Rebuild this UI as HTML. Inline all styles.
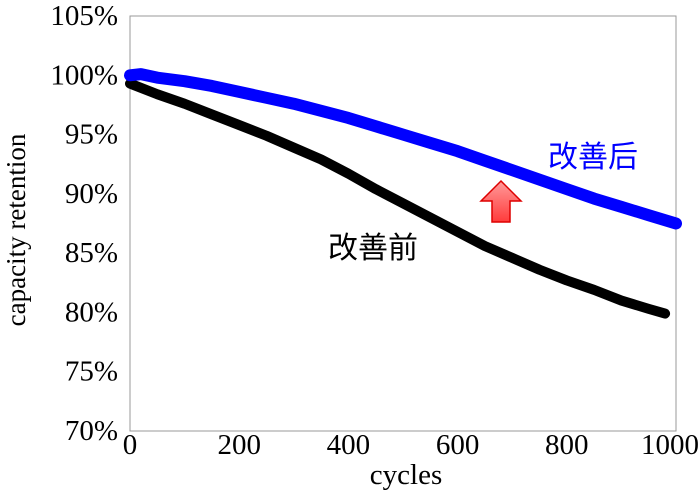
<!DOCTYPE html>
<html><head><meta charset="utf-8"><style>
body{margin:0;background:#fff}
svg{display:block;font-family:"Liberation Serif","Noto Serif CJK SC",serif}
</style></head><body>
<svg id="c" width="700" height="492" viewBox="0 0 700 492">
<defs><linearGradient id="ag" x1="0" y1="0" x2="0" y2="1"><stop offset="0" stop-color="#ff9a9a"/><stop offset="1" stop-color="#ff3b3b"/></linearGradient></defs>
<rect x="130" y="16" width="546" height="415" fill="none" stroke="#999" stroke-width="1"/>
<g id="yt"></g><g id="xt"></g><g id="ser"></g>
<text x="0" y="0" transform="translate(25,230) rotate(-90)" text-anchor="middle" font-size="27">capacity retention</text>
<text x="406" y="484" text-anchor="middle" font-size="29">cycles</text>
<text x="548" y="167" font-size="30" fill="#0000ff" font-family="'Noto Sans CJK SC',sans-serif">改善后</text>
<text x="328" y="258" font-size="30" fill="#000" font-family="'Noto Sans CJK SC',sans-serif">改善前</text>
<polygon points="501,181 521,201 510,201 510,222 492,222 492,201 481,201" fill="url(#ag)" stroke="#d00" stroke-width="1.5"/>
</svg>
<script>
const yTicks=[70,75,80,85,90,95,100,105];
const xTicks=[0,200,400,600,800,1000];
const blueX=[0,20,50,100,150,200,250,300,350,400,450,500,550,600,650,700,750,800,850,900,950,1000];
const blueY=[100,100.1,99.8,99.5,99.1,98.6,98.1,97.6,97.0,96.4,95.7,95.0,94.3,93.6,92.8,92.0,91.2,90.4,89.6,88.9,88.2,87.5];
const blackX=[0,50,100,150,200,250,300,350,400,450,500,550,600,650,700,750,800,850,900,950,980];
const blackY=[99.3,98.4,97.6,96.7,95.8,94.9,93.9,92.9,91.7,90.4,89.2,88.0,86.8,85.6,84.6,83.6,82.7,81.9,81.0,80.3,79.9];
const X=v=>130+v/1000*546, Y=v=>16+(105-v)/35*415;
const NS="http://www.w3.org/2000/svg";
const yt=document.getElementById('yt'),xt=document.getElementById('xt'),ser=document.getElementById('ser');
yTicks.forEach(t=>{const e=document.createElementNS(NS,'text');e.setAttribute('x',118);e.setAttribute('y',Y(t)+9);e.setAttribute('text-anchor','end');e.setAttribute('font-size','29');e.textContent=t+'%';


yt.appendChild(e);});
xTicks.forEach(t=>{const e=document.createElementNS(NS,'text');e.setAttribute('x',X(t)-(t==1000?6:0));e.setAttribute('y',454);e.setAttribute('text-anchor','middle');e.setAttribute('font-size','29');e.textContent=t;


xt.appendChild(e);});
function line(xs,ys,col,w,name){const p=document.createElementNS(NS,'polyline');p.setAttribute('points',xs.map((x,i)=>X(x)+','+Y(ys[i])).join(' '));p.setAttribute('fill','none');p.setAttribute('stroke',col);p.setAttribute('stroke-width',w);p.setAttribute('stroke-linecap','round');p.setAttribute('stroke-linejoin','round');


ser.appendChild(p);}
line(blackX,blackY,'#000',10,'series-before');
line(blueX,blueY,'#0000ff',12,'series-improved');
</script>
</body></html>
